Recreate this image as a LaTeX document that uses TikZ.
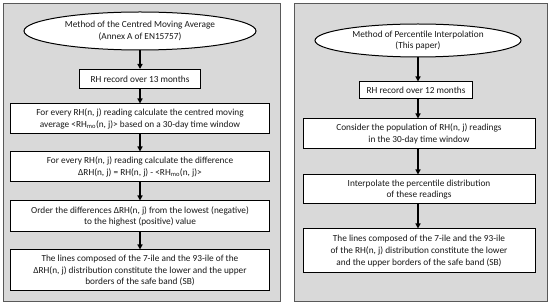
\documentclass[tikz,border=0pt]{standalone}
\usepackage{fontspec}
\setmainfont{Carlito}
\usetikzlibrary{shapes.geometric,arrows.meta}
\begin{document}
\begin{tikzpicture}[x=1pt,y=-1pt,
  panel/.style={draw=black!65,line width=1pt,fill=black!15,inner sep=0pt},
  boxn/.style={draw=black,line width=1pt,fill=white,inner sep=0pt,align=center,font=\fontsize{9.3}{11.8}\selectfont,text=black!90},
  ovaln/.style={ellipse,draw=black,line width=1pt,fill=white,inner sep=0pt,align=center,font=\fontsize{9.3}{11.8}\selectfont,text=black!90},
  arr/.style={-{Triangle[length=5pt,width=5pt]},line width=1.2pt,black}]
\useasboundingbox (0,0) rectangle (550,307);
% panels
\node[panel,minimum width=277pt,minimum height=298pt] (pL) at (141.5,153) {};
\node[panel,minimum width=253pt,minimum height=298pt] (pR) at (420.5,153) {};
% left column
\node[ovaln,minimum width=232pt,minimum height=38pt] (L0) at (140,31) {Method of the Centred Moving Average\\(Annex A of EN15757)};
\node[boxn,minimum width=121pt,minimum height=19pt] (L1) at (140,79) {RH record over 13 months};
\node[boxn,minimum width=259pt,minimum height=30pt] (L2) at (140,119) {For every RH(n, j) reading calculate the centred moving\\average <RH\textsubscript{mo}(n, j)> based on a 30-day time window};
\node[boxn,minimum width=259pt,minimum height=30pt] (L3) at (140,167) {For every RH(n, j) reading calculate the difference\\ΔRH(n, j) = RH(n, j) - <RH\textsubscript{mo}(n, j)>};
\node[boxn,minimum width=259pt,minimum height=31pt] (L4) at (140,216.5) {Order the differences ΔRH(n, j) from the lowest (negative)\\to the highest (positive) value};
\node[boxn,minimum width=259pt,minimum height=41pt] (L5) at (140,270.5) {The lines composed of the 7-ile and the 93-ile of the\\ΔRH(n, j) distribution constitute the lower and the upper\\borders of the safe band (SB)};
% right column
\node[ovaln,minimum width=206pt,minimum height=33pt] (R0) at (418,40.5) {Method of Percentile Interpolation\\(This paper)};
\node[boxn,minimum width=113pt,minimum height=17pt] (R1) at (416,90.5) {RH record over 12 months};
\node[boxn,minimum width=232pt,minimum height=30pt] (R2) at (419,134) {Consider the population of RH(n, j) readings\\in the 30-day time window};
\node[boxn,minimum width=232pt,minimum height=29pt] (R3) at (419,189.5) {Interpolate the percentile distribution\\of these readings};
\node[boxn,minimum width=232pt,minimum height=44pt] (R4) at (419,251) {The lines composed of the 7-ile and the 93-ile\\of the RH(n, j) distribution constitute the lower\\and the upper borders of the safe band (SB)};
% arrows
\draw[arr] (L0.south) -- (L1.north);
\draw[arr] (L1.south) -- (L2.north);
\draw[arr] (L2.south) -- (L3.north);
\draw[arr] (L3.south) -- (L4.north);
\draw[arr] (L4.south) -- (L5.north);
\draw[arr] (R0.south) -- (R0.south |- R1.north);
\draw[arr] (R0.south |- R1.south) -- (R0.south |- R2.north);
\draw[arr] (R0.south |- R2.south) -- (R0.south |- R3.north);
\draw[arr] (R0.south |- R3.south) -- (R0.south |- R4.north);
\end{tikzpicture}
\end{document}
